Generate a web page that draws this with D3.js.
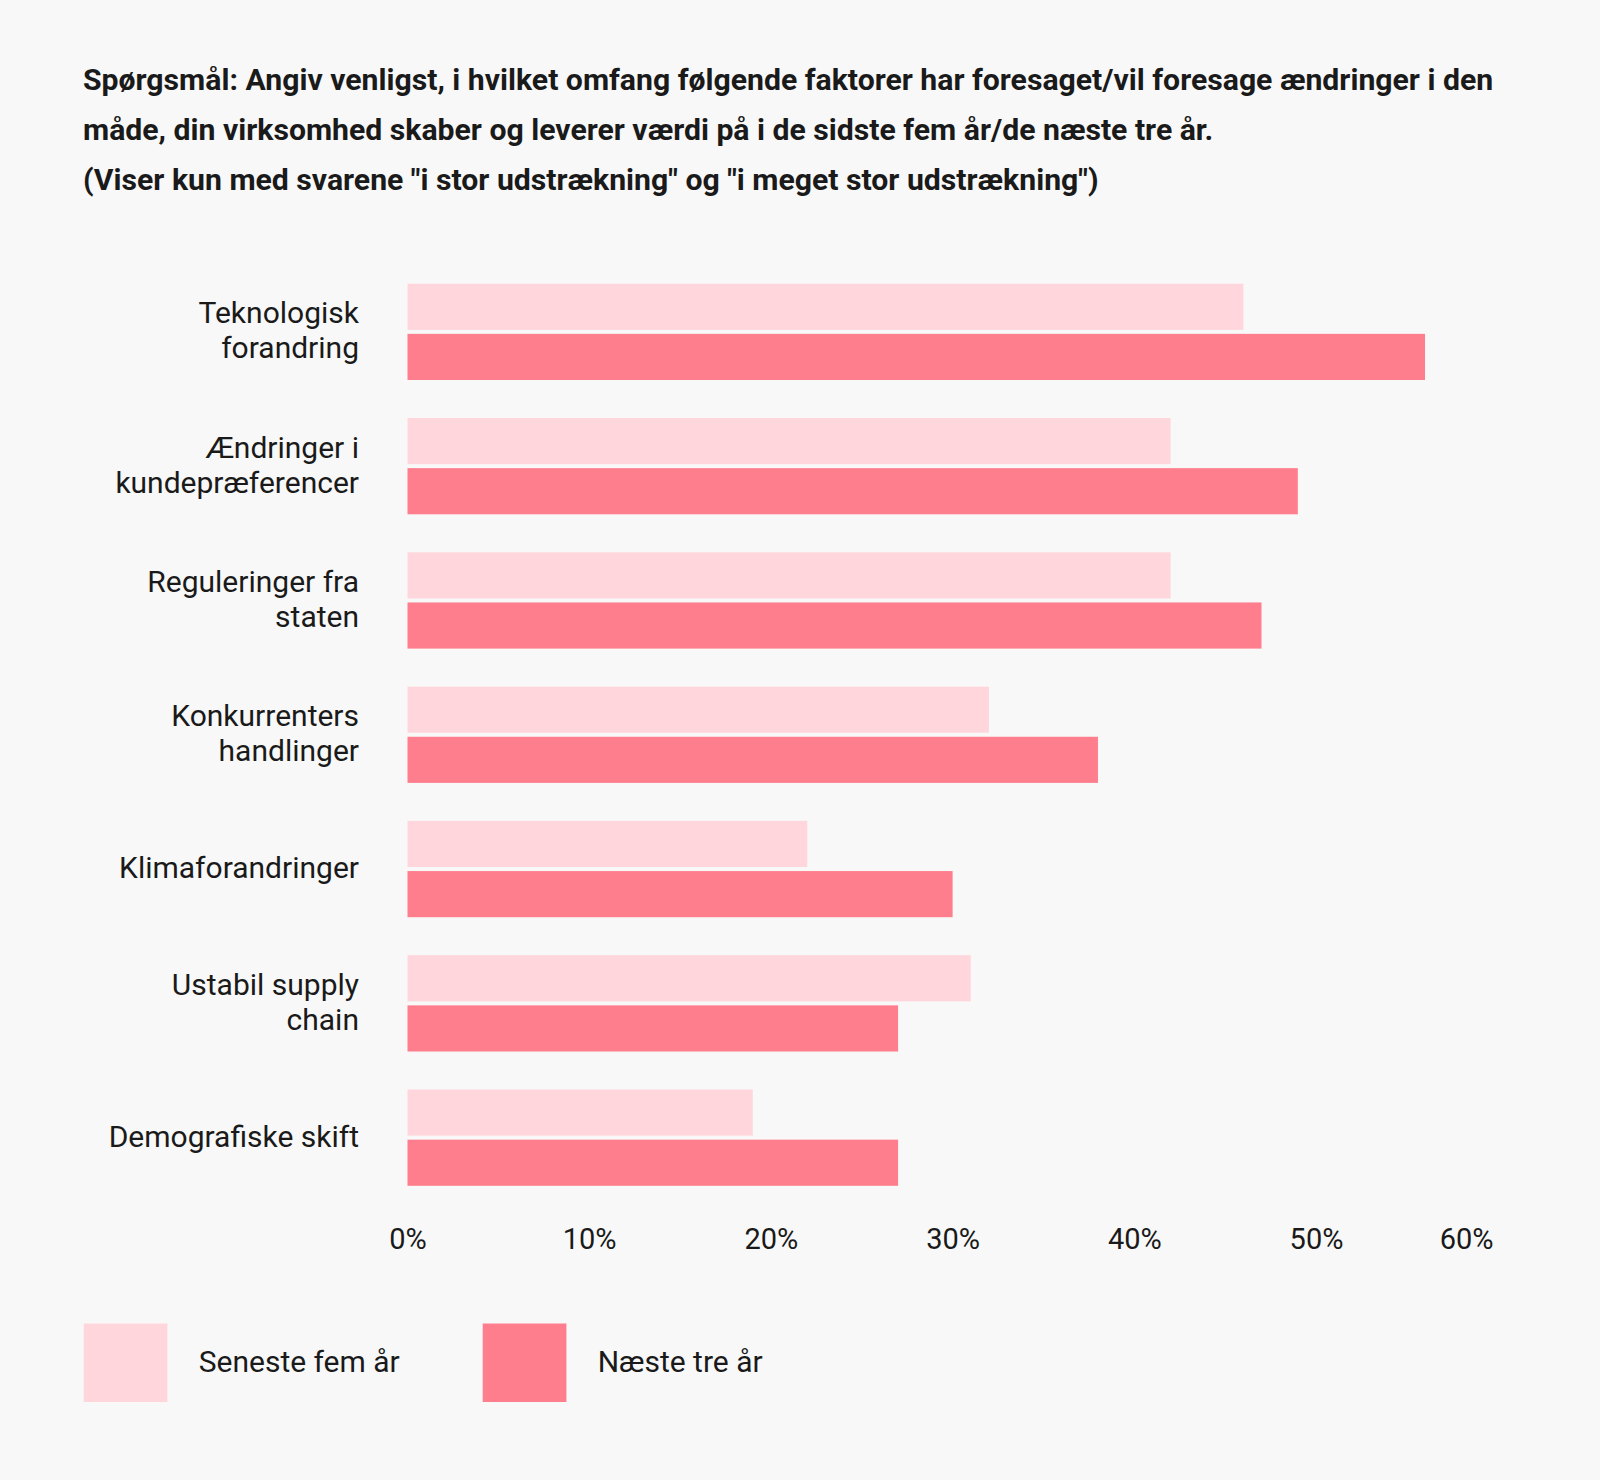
<!DOCTYPE html>
<html>
<head>
<meta charset="utf-8">
<script src="https://cdn.jsdelivr.net/npm/d3@7"></script>
<style>
  html, body { margin: 0; padding: 0; background: #f8f8f8; }
  svg { display: block; }
  text { font-family: "Roboto", "Noto Sans", sans-serif; fill: #1a1a1a; }
</style>
</head>
<body>
<svg id="chart" width="1600" height="1480"></svg>
<script>
const titleLines = [
  "Spørgsmål: Angiv venligst, i hvilket omfang følgende faktorer har foresaget/vil foresage ændringer i den",
  "måde, din virksomhed skaber og leverer værdi på i de sidste fem år/de næste tre år.",
  "(Viser kun med svarene \"i stor udstrækning\" og \"i meget stor udstrækning\")"
];
const categories = [
  "Teknologisk forandring",
  "Ændringer i kundepræferencer",
  "Reguleringer fra staten",
  "Konkurrenters handlinger",
  "Klimaforandringer",
  "Ustabil supply chain",
  "Demografiske skift"
];
const categoryLines = [
  ["Teknologisk", "forandring"],
  ["Ændringer i", "kundepræferencer"],
  ["Reguleringer fra", "staten"],
  ["Konkurrenters", "handlinger"],
  ["Klimaforandringer"],
  ["Ustabil supply", "chain"],
  ["Demografiske skift"]
];
const seriesNames = ["Seneste fem år", "Næste tre år"];
const senesteFemAar = [46, 42, 42, 32, 22, 31, 19];
const naesteTreAar = [56, 49, 47, 38, 30, 27, 27];
const tickValues = [0, 10, 20, 30, 40, 50, 60];
const tickLabels = ["0%", "10%", "20%", "30%", "40%", "50%", "60%"];
const colors = ["#ffd6dc", "#ff7e8d"];

const svg = d3.select("#chart");

// Title
svg.append("g").selectAll("text").data(titleLines).join("text")
  .attr("x", 83)
  .attr("y", (d, i) => 90 + i * 50)
  .attr("font-size", 30.2)
  .attr("font-weight", 700)
  .text(d => d);

const x = d3.scaleLinear().domain([0, 60]).range([407.5, 1497.7]);
const y = d3.scaleBand().domain(categories).range([283.7, 1185.8]).paddingInner(0.283).paddingOuter(0);
const ySub = d3.scaleBand().domain(seriesNames).range([0, y.bandwidth()]).paddingInner(0.08);

const data = categories.map((c, i) => ({ cat: c, lines: categoryLines[i], values: [senesteFemAar[i], naesteTreAar[i]] }));

const groups = svg.append("g").selectAll("g").data(data).join("g")
  .attr("transform", d => `translate(0,${y(d.cat)})`);

groups.selectAll("rect").data(d => d.values.map((v, j) => ({ v, s: seriesNames[j], j }))).join("rect")
  .attr("x", x(0))
  .attr("y", d => ySub(d.s))
  .attr("width", d => x(d.v) - x(0))
  .attr("height", ySub.bandwidth())
  .attr("fill", d => colors[d.j]);

// category labels
groups.append("text")
  .attr("text-anchor", "end")
  .attr("font-size", 30)
  .each(function(d) {
    const t = d3.select(this);
    const c = y.bandwidth() / 2;
    const n = d.lines.length;
    d.lines.forEach((ln, k) => {
      t.append("tspan")
        .attr("x", 359)
        .attr("y", c + 9 + (k - (n - 1) / 2) * 35)
        .text(ln);
    });
  });

// x axis labels
const axis = d3.axisBottom(x).tickValues(tickValues).tickFormat((d, i) => tickLabels[i]).tickSize(0).tickPadding(0);
const ax = svg.append("g").attr("transform", "translate(0,1249)").call(axis);
ax.select(".domain").remove();
ax.selectAll("text")
  .attr("dy", 0)
  .attr("font-size", 29)
  .attr("font-family", "Roboto, sans-serif")
  .attr("fill", "#1a1a1a");
ax.selectAll(".tick").filter(d => d === 60).select("text")
  .attr("text-anchor", "end")
  .attr("x", 1493 - x(60));

// Legend
const legendX = [83.7, 482.7];
const leg = svg.append("g").selectAll("g").data(seriesNames).join("g")
  .attr("transform", (d, i) => `translate(${legendX[i]},1323.5)`);
leg.append("rect").attr("width", 83.7).attr("height", 78.5).attr("fill", (d, i) => colors[i]);
leg.append("text").attr("x", 115).attr("y", 48).attr("font-size", 30).text(d => d);
</script>
</body>
</html>
